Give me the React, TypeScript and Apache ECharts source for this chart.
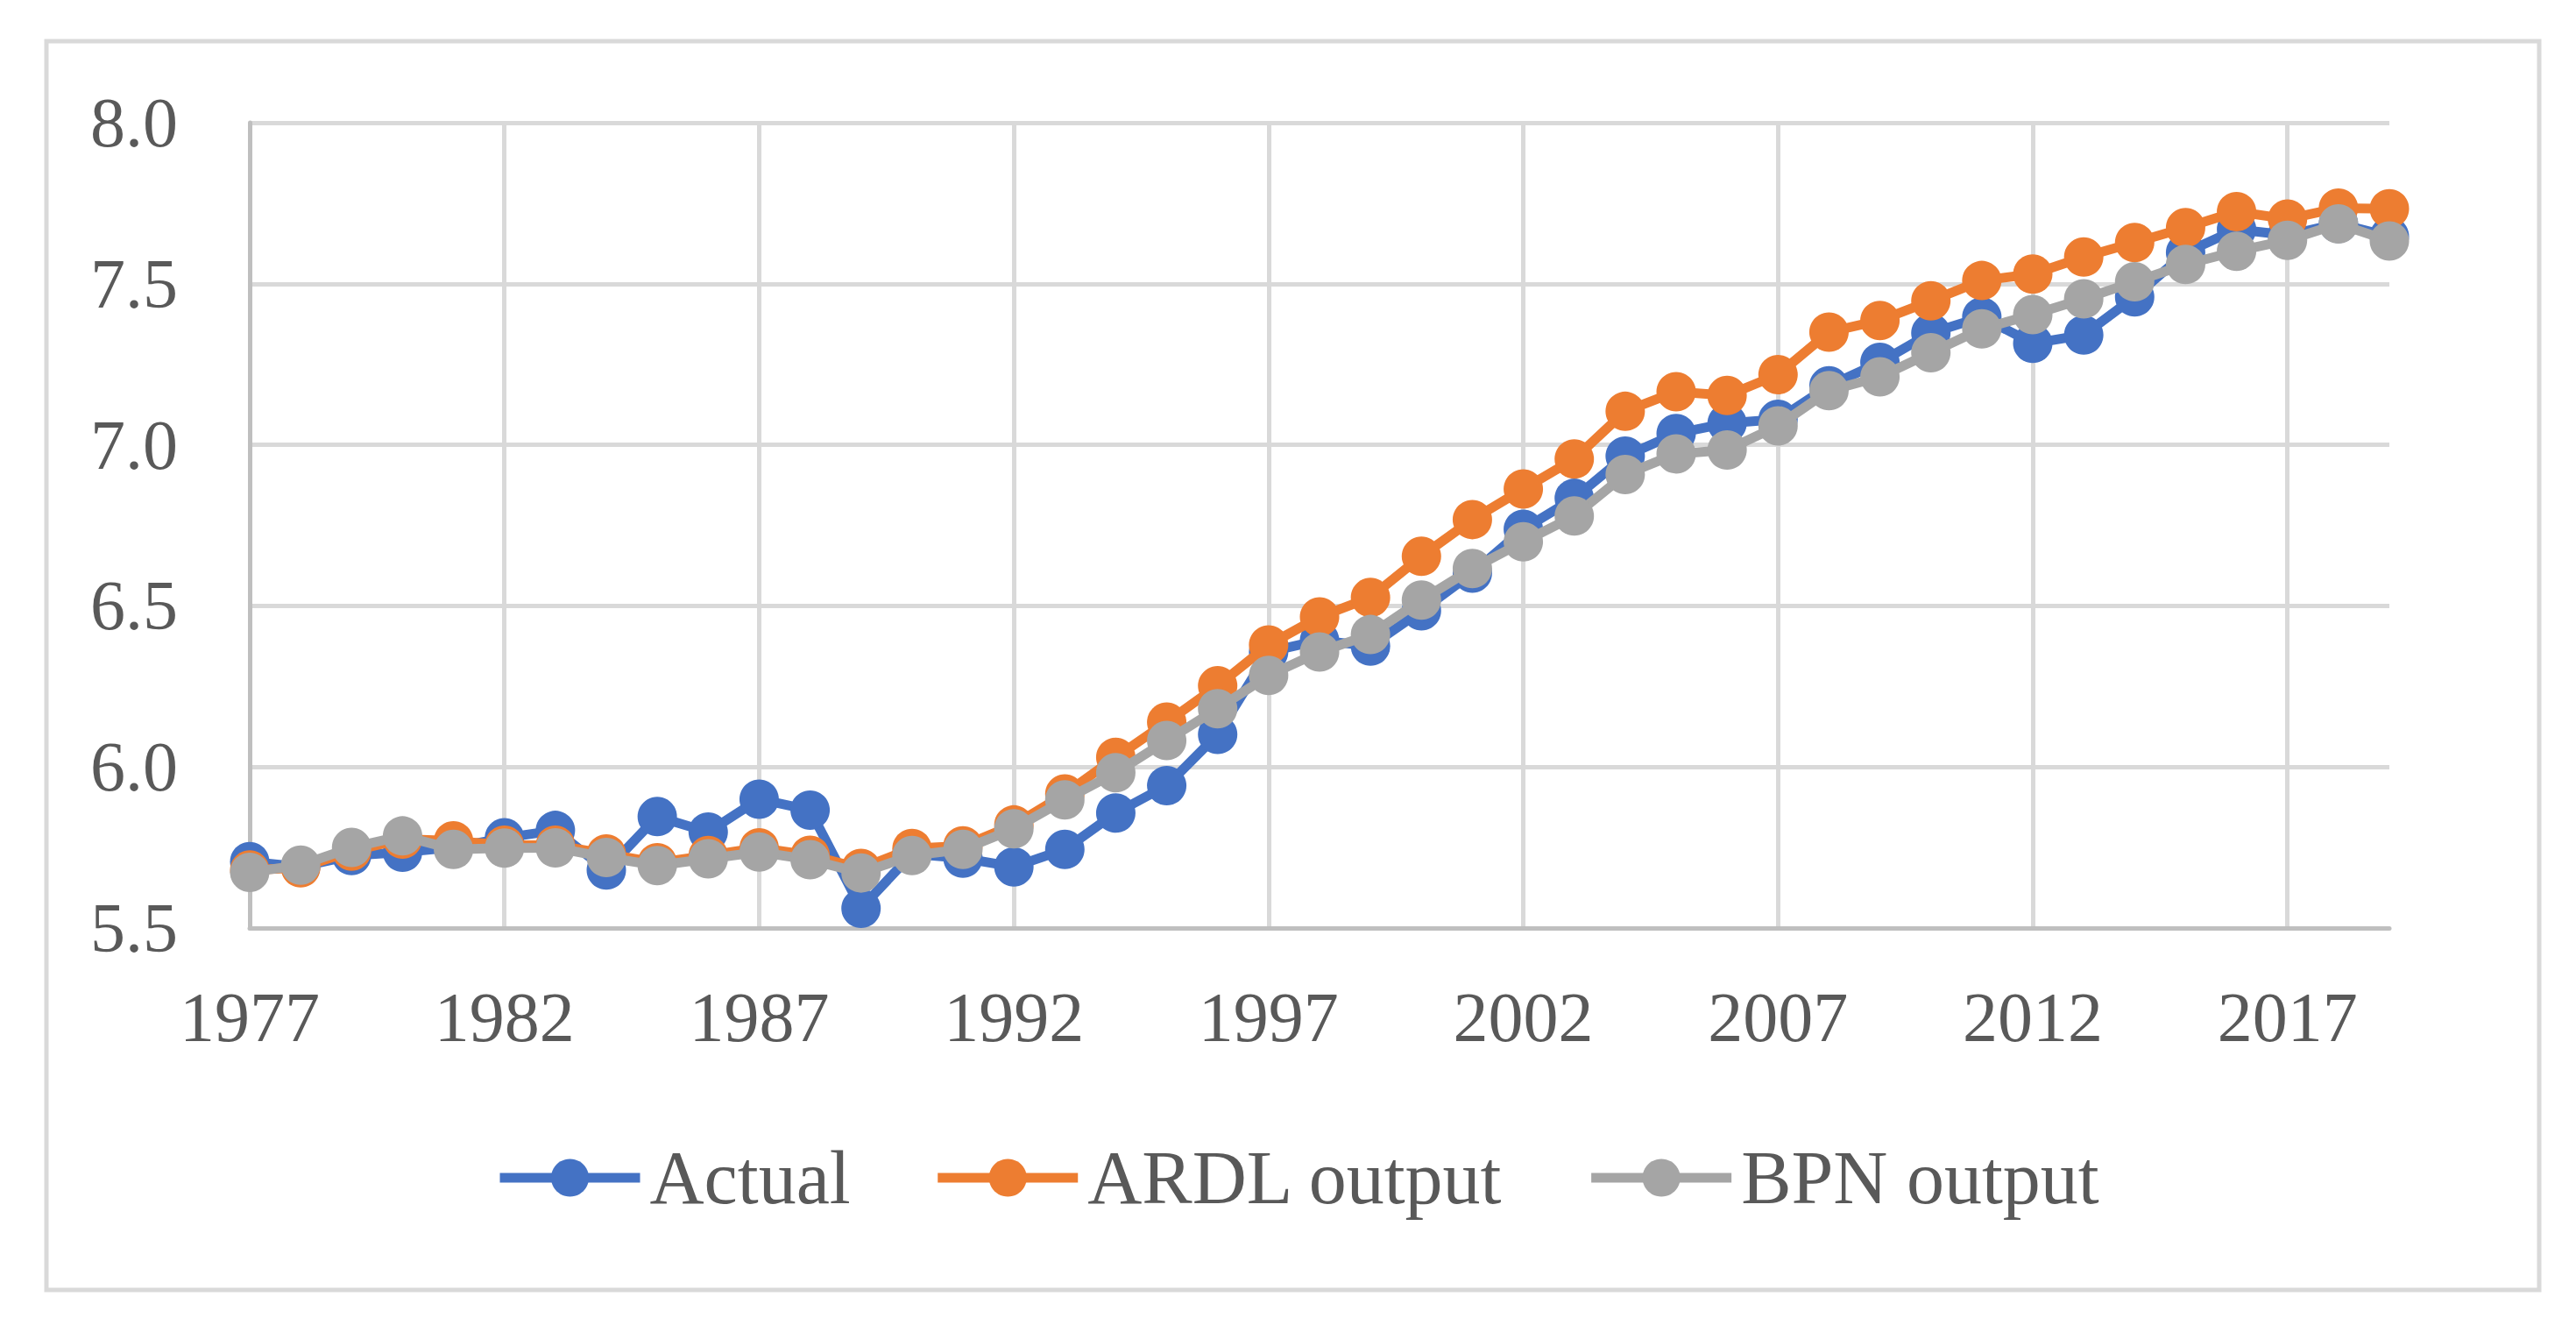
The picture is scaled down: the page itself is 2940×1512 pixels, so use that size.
import React, { useEffect, useRef } from "react";
import * as echarts from "echarts";

const years: string[] = [];
for (let y = 1977; y <= 2019; y++) years.push(String(y));

const actual = [
  5.706, 5.69, 5.725, 5.735, 5.75, 5.78, 5.803, 5.68, 5.846, 5.798,
  5.9, 5.866, 5.561, 5.73, 5.717, 5.69, 5.744, 5.857, 5.942, 6.101,
  6.357, 6.393, 6.375, 6.485, 6.602, 6.738, 6.834, 6.965, 7.035, 7.067,
  7.079, 7.183, 7.256, 7.347, 7.397, 7.315, 7.341, 7.459, 7.597, 7.669,
  7.651, 7.687, 7.647,
];

const ardl = [
  5.68, 5.687, 5.739, 5.776, 5.771, 5.757, 5.757, 5.73, 5.703, 5.725,
  5.749, 5.726, 5.685, 5.747, 5.755, 5.82, 5.916, 6.03, 6.139, 6.252,
  6.379, 6.466, 6.526, 6.654, 6.768, 6.863, 6.956, 7.104, 7.165, 7.153,
  7.218, 7.35, 7.386, 7.447, 7.51, 7.53, 7.583, 7.628, 7.674, 7.724,
  7.701, 7.735, 7.733,
];

const bpn = [
  5.673, 5.695, 5.75, 5.786, 5.744, 5.748, 5.749, 5.719, 5.694, 5.715,
  5.736, 5.712, 5.671, 5.725, 5.744, 5.808, 5.898, 5.982, 6.082, 6.181,
  6.284, 6.357, 6.411, 6.518, 6.616, 6.699, 6.779, 6.908, 6.972, 6.984,
  7.059, 7.168, 7.211, 7.286, 7.36, 7.404, 7.453, 7.506, 7.56, 7.601,
  7.635, 7.686, 7.633,
];

const seriesNames = ["Actual", "ARDL output", "BPN output"];
const colors = ["#4472C4", "#ED7D31", "#A5A5A5"];

const FONT = "'Liberation Serif', 'DejaVu Serif', serif";
const TEXT_COLOR = "#595959";

export default function App() {
  const ref = useRef<HTMLDivElement>(null);

  useEffect(() => {
    document.body.style.margin = "0";
    if (!ref.current) return;
    const chart = echarts.init(ref.current, null, { renderer: "svg" });
    const datasets = [actual, ardl, bpn];
    chart.setOption({
      animation: false,
      backgroundColor: "#ffffff",
      textStyle: { fontFamily: FONT },
      graphic: [
        {
          type: "rect",
          shape: { x: 53, y: 47, width: 2845, height: 1425 },
          style: { fill: "none", stroke: "#d9d9d9", lineWidth: 5 },
          silent: true,
        },
      ],
      grid: { left: 285, right: 213, top: 140, bottom: 453, containLabel: false },
      legend: {
        data: seriesNames,
        left: 560,
        top: 1296,
        itemWidth: 160,
        itemHeight: 54,
        itemGap: 94,
        lineStyle: { width: 11 },
        textStyle: {
          fontFamily: FONT,
          fontSize: 86,
          color: TEXT_COLOR,
          padding: [0, 0, 0, 6],
        },
      },
      xAxis: {
        type: "category",
        data: years,
        boundaryGap: false,
        axisLine: { show: true, lineStyle: { color: "#bfbfbf", width: 5 } },
        axisTick: { show: false },
        axisLabel: {
          interval: 4,
          fontFamily: FONT,
          fontSize: 80,
          color: TEXT_COLOR,
          margin: 62,
        },
        splitLine: {
          show: true,
          interval: 4,
          lineStyle: { color: "#d9d9d9", width: 5 },
        },
      },
      yAxis: {
        type: "value",
        min: 5.5,
        max: 8.0,
        interval: 0.5,
        axisLine: { show: true, lineStyle: { color: "#bfbfbf", width: 5 } },
        axisTick: { show: false },
        axisLabel: {
          fontFamily: FONT,
          fontSize: 80,
          color: TEXT_COLOR,
          margin: 82,
          formatter: (v: number) => v.toFixed(1),
        },
        splitLine: { show: true, lineStyle: { color: "#d9d9d9", width: 5 } },
      },
      series: seriesNames.map((name, i) => ({
        name,
        type: "line",
        data: datasets[i],
        symbol: "circle",
        symbolSize: 45,
        showSymbol: true,
        showAllSymbol: true,
        color: colors[i],
        lineStyle: { color: colors[i], width: 11 },
        itemStyle: { color: colors[i] },
        z: 2 + i,
      })),
    });
    return () => chart.dispose();
  }, []);

  return <div ref={ref} style={{ width: 2940, height: 1512 }} />;
}
